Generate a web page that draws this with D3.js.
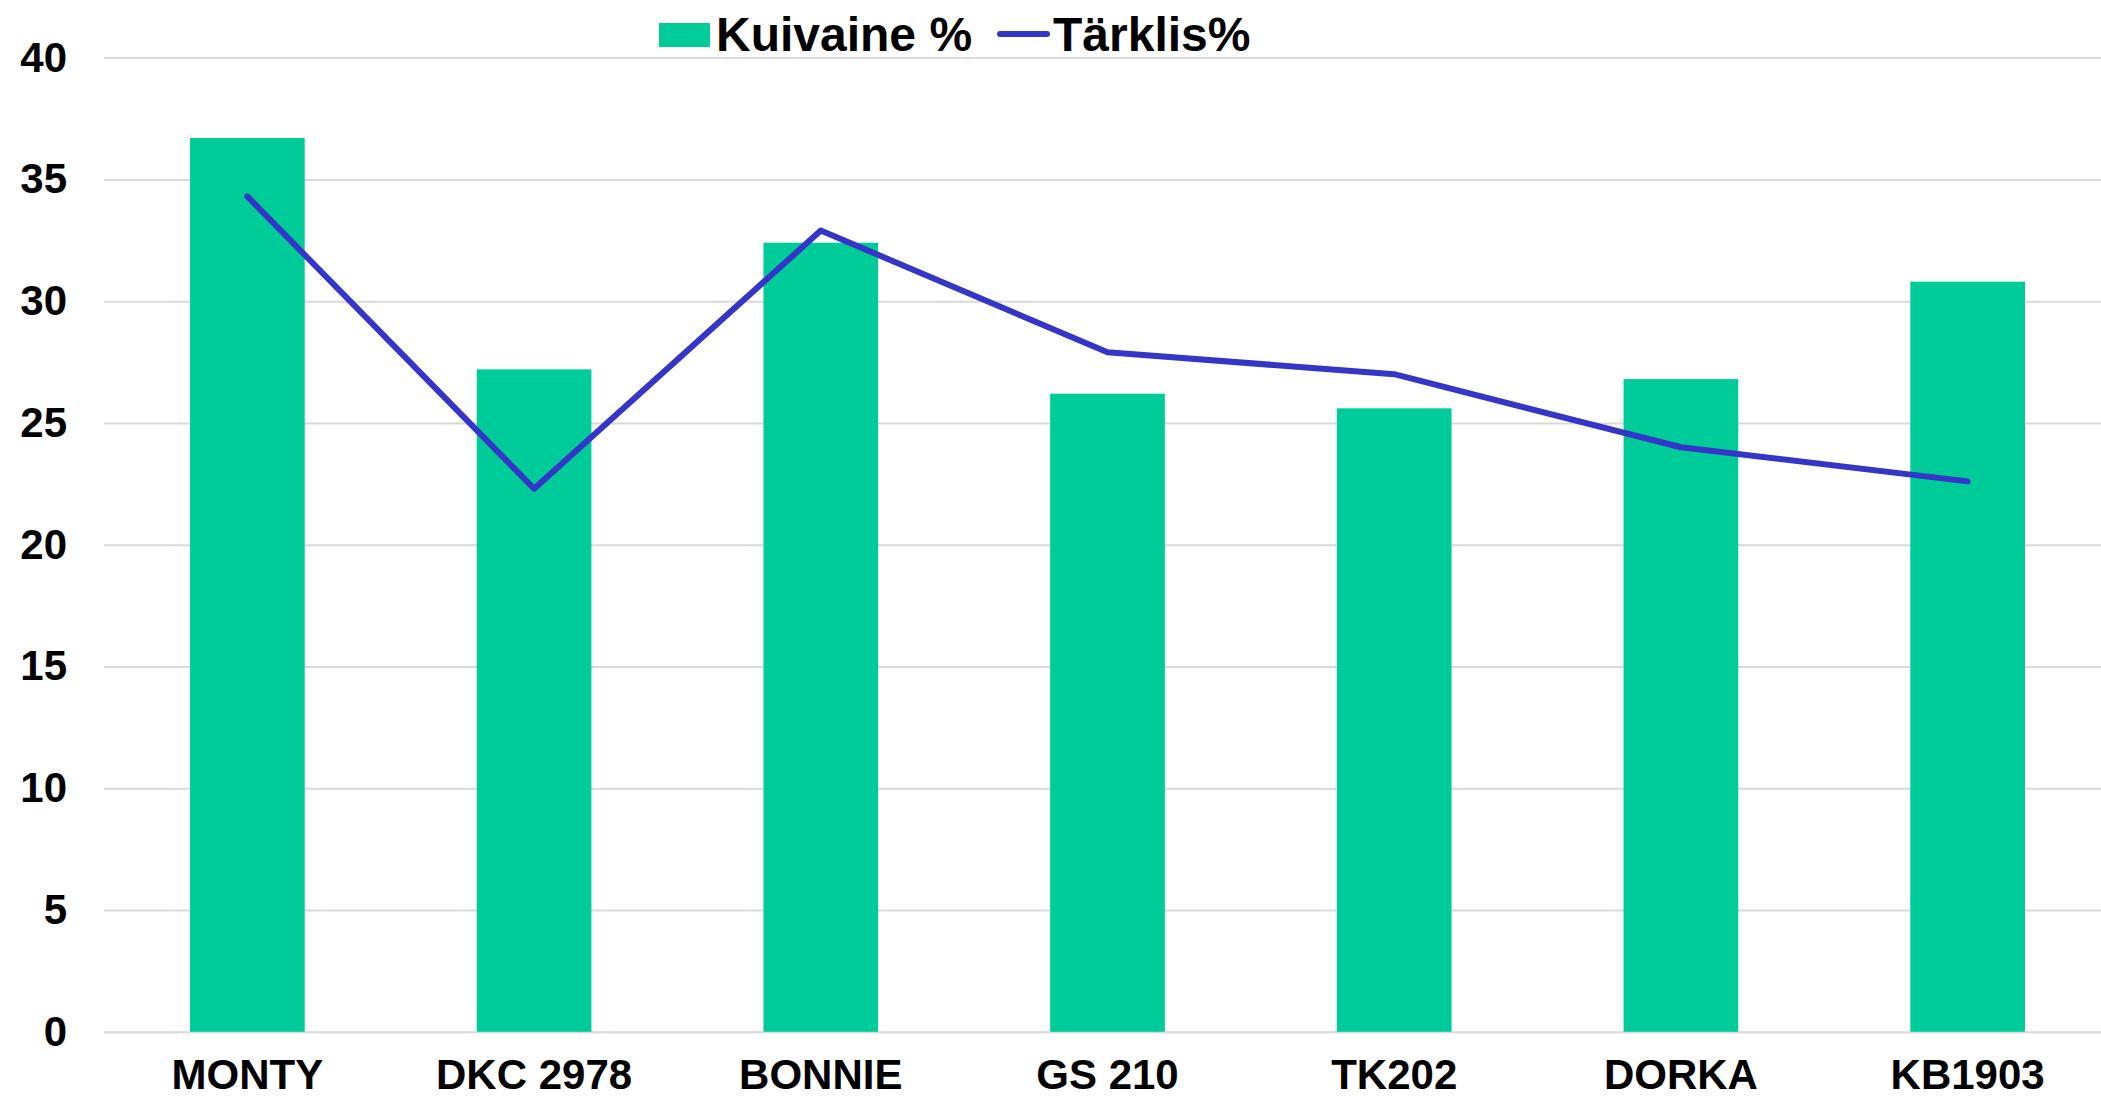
<!doctype html>
<html>
<head>
<meta charset="utf-8">
<title>Kuivaine ja tärklis</title>
<script src="https://d3js.org/d3.v7.min.js"></script>
<style>
    body { margin: 0; background: #fff; }
    text { font-family: "Liberation Sans", Arial, sans-serif; font-weight: bold; fill: #000; }
</style>
</head>
<body>
<svg width="2101" height="1099"></svg>
<script>
// data
var varieties = ["MONTY", "DKC 2978", "BONNIE", "GS 210", "TK202", "DORKA", "KB1903"];
var kuivaine = [36.7, 27.2, 32.4, 26.2, 25.6, 26.8, 30.8];
var tarklis = [34.3, 22.3, 32.9, 27.9, 27.0, 24.0, 22.6];
var yTicks = [0, 5, 10, 15, 20, 25, 30, 35, 40];
var seriesNames = ["Kuivaine %", "Tärklis%"];

var barColor = "#00cc99",
    lineColor = "#3535c8";

var svg = d3.select("svg"),
    plotLeft = 104, plotRight = 2111,
    plotTop = 57.6, plotBottom = 1031.8;

var x = d3.scaleBand().domain(varieties).range([plotLeft, plotRight]);
var y = d3.scaleLinear().domain([0, 40]).range([plotBottom, plotTop]);

// y axis + gridlines
var yAxis = svg.append("g")
    .attr("transform", "translate(" + plotLeft + ",0)")
    .call(d3.axisLeft(y).tickValues(yTicks).tickSize(-(2101 - plotLeft)).tickPadding(37));
yAxis.select(".domain").remove();
yAxis.selectAll("line").attr("stroke", "#d9d9d9").attr("stroke-width", 2);
yAxis.selectAll("text").attr("font-size", 42).attr("font-family", null);

// x axis labels
var xAxis = svg.append("g")
    .attr("transform", "translate(0," + plotBottom + ")")
    .call(d3.axisBottom(x).tickSize(0).tickPadding(27));
xAxis.select(".domain").remove();
xAxis.selectAll("text").attr("font-size", 42).attr("font-family", null);

// bars
var barW = x.bandwidth() * 0.4;
svg.selectAll(".bar")
    .data(kuivaine)
    .enter().append("rect")
    .attr("class", "bar")
    .attr("x", function(d, i) { return x(varieties[i]) + x.bandwidth() / 2 - barW / 2; })
    .attr("width", barW)
    .attr("y", function(d) { return y(d); })
    .attr("height", function(d) { return plotBottom - y(d); })
    .attr("fill", barColor);

// line
var line = d3.line()
    .x(function(d, i) { return x(varieties[i]) + x.bandwidth() / 2; })
    .y(function(d) { return y(d); });

svg.append("path")
    .datum(tarklis)
    .attr("d", line)
    .attr("fill", "none")
    .attr("stroke", lineColor)
    .attr("stroke-width", 6)
    .attr("stroke-linecap", "round")
    .attr("stroke-linejoin", "round");

// legend
var lg = svg.append("g");
lg.append("rect").attr("x", 659).attr("y", 23).attr("width", 51).attr("height", 24).attr("fill", barColor);
lg.append("text").attr("x", 716).attr("y", 51).attr("font-size", 48).text(seriesNames[0]);
lg.append("line").attr("x1", 1000).attr("x2", 1047).attr("y1", 34).attr("y2", 34)
    .attr("stroke", lineColor).attr("stroke-width", 6).attr("stroke-linecap", "round");
lg.append("text").attr("x", 1053).attr("y", 51).attr("font-size", 48).text(seriesNames[1]);
</script>
</body>
</html>
